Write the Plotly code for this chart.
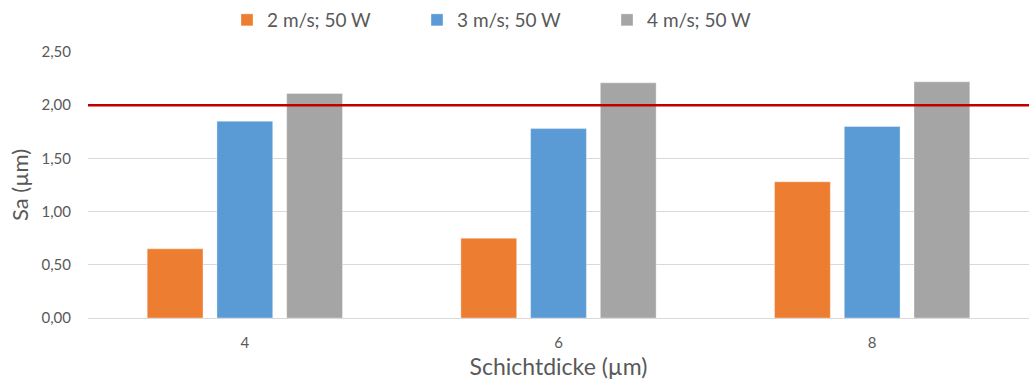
import plotly.graph_objects as go

# Schichtdicke categories (µm)
categories = ["4", "6", "8"]

# Sa (µm) per parameter set
series_names = ["2 m/s; 50 W", "3 m/s; 50 W", "4 m/s; 50 W"]
sa_2ms = [0.65, 0.75, 1.28]
sa_3ms = [1.85, 1.78, 1.80]
sa_4ms = [2.11, 2.21, 2.22]

# Limit value (µm)
limit_value = 2.00

y_ticks = [0, 0.5, 1.0, 1.5, 2.0, 2.5]

colors = ["#ED7D31", "#5B9BD5", "#A5A5A5"]
text_color = "#595959"
font_family = "Lato, 'Open Sans', sans-serif"

fig = go.Figure()
for name, vals, col in zip(series_names, [sa_2ms, sa_3ms, sa_4ms], colors):
    fig.add_trace(go.Bar(
        x=categories, y=vals, name=name,
        marker=dict(color=col, line=dict(color="rgba(255,255,255,0.35)", width=1)),
    ))

fig.add_shape(
    type="line", xref="paper", yref="y",
    x0=0, x1=1, y0=limit_value, y1=limit_value,
    line=dict(color="#C00000", width=2.5), layer="above",
)

fig.update_layout(
    width=1029, height=385,
    margin=dict(l=88, r=0, t=52, b=67),
    paper_bgcolor="white", plot_bgcolor="white",
    barmode="group", bargap=0.333, bargroupgap=0.2,
    separators=",.",
    font=dict(family=font_family, color=text_color, size=15),
    showlegend=True,
    legend=dict(
        orientation="h", xref="container", yref="container",
        x=0.2206, y=0.948, xanchor="left", yanchor="middle",
        font=dict(size=19, color=text_color),
        entrywidth=145, itemwidth=30,
    ),
    xaxis=dict(
        type="category", showgrid=False, showline=False, ticks="",
        ticklabelstandoff=14,
        tickfont=dict(size=15, color=text_color),
        title=dict(text="Schichtdicke (µm)", font=dict(size=23, color=text_color), standoff=8),
    ),
    yaxis=dict(
        range=[0, 2.5], tickvals=y_ticks, tickformat=".2f",
        showgrid=True, gridcolor="#D9D9D9", gridwidth=1,
        zeroline=True, zerolinecolor="#D9D9D9", zerolinewidth=1,
        showline=False, ticks="", ticklabelstandoff=16,
        tickfont=dict(size=15, color=text_color),
        title=dict(text="Sa (µm)", font=dict(size=22, color=text_color), standoff=6),
    ),
)

fig.write_html("out.html")
